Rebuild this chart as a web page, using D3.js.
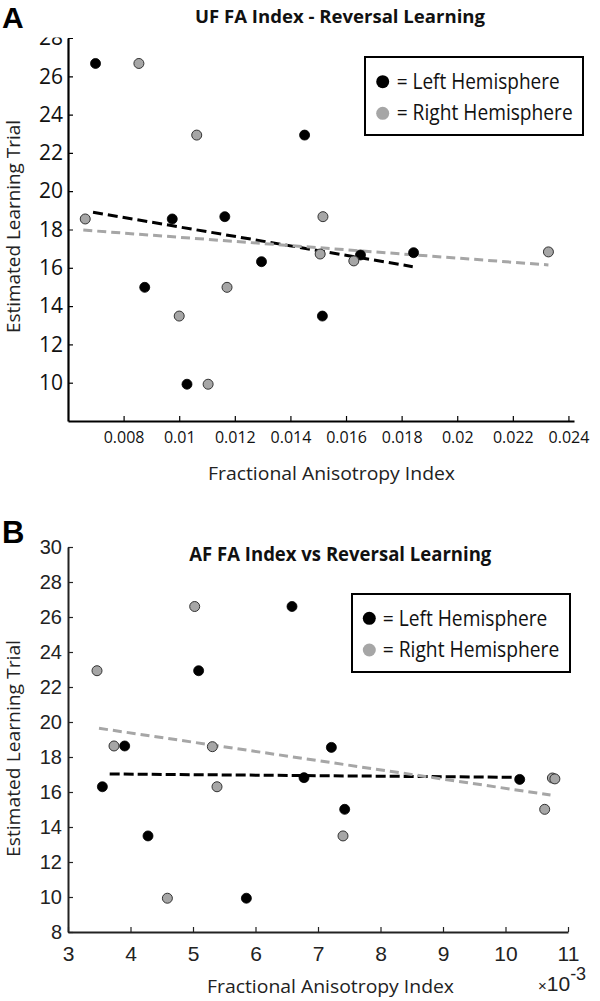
<!DOCTYPE html>
<html>
<head>
<meta charset="utf-8">
<script src="https://cdn.jsdelivr.net/npm/d3@7/dist/d3.min.js"></script>
<style>
  html, body { margin: 0; padding: 0; background: #fff; }
  svg { display: block; }
</style>
</head>
<body>
<svg id="chart" width="600" height="1001"></svg>
<script>
// ---- Panel A: UF FA Index ----
const ufLeftX  = [0.00699, 0.00975, 0.01164, 0.01451, 0.00876, 0.01028, 0.01296, 0.01515, 0.01652, 0.01843];
const ufLeftY  = [26.67, 18.55, 18.67, 22.93, 14.98, 9.92, 16.32, 13.48, 16.67, 16.79];
const ufRightX = [0.00855, 0.00662, 0.01063, 0.01517, 0.01000, 0.01104, 0.01172, 0.01507, 0.01628, 0.02328];
const ufRightY = [26.67, 18.55, 22.93, 18.67, 13.48, 9.92, 14.98, 16.72, 16.36, 16.83];
const ufLeftFitX  = [0.0069, 0.0184];
const ufLeftFitY  = [18.90, 16.06];
const ufRightFitX = [0.00655, 0.02328];
const ufRightFitY = [17.97, 16.15];
const ufXTicks = [0.008, 0.010, 0.012, 0.014, 0.016, 0.018, 0.020, 0.022, 0.024];
const ufXTickLabels = ["0.008", "0.01", "0.012", "0.014", "0.016", "0.018", "0.02", "0.022", "0.024"];
const ufYTicks = [10, 12, 14, 16, 18, 20, 22, 24, 26, 28];

// ---- Panel B: AF FA Index (x in units of 10^-3) ----
const afLeftX  = [6.584, 5.09, 3.907, 3.55, 4.28, 5.854, 6.776, 7.214, 7.427, 10.227];
const afLeftY  = [26.6, 22.93, 18.63, 16.3, 13.49, 9.93, 16.82, 18.55, 15.01, 16.72];
const afRightX = [3.464, 5.027, 3.736, 5.31, 5.384, 4.59, 7.40, 10.627, 10.75, 10.79];
const afRightY = [22.93, 26.6, 18.63, 18.59, 16.3, 9.93, 13.49, 15.01, 16.8, 16.75];
const afLeftFitX  = [3.667, 10.17];
const afLeftFitY  = [17.03, 16.84];
const afRightFitX = [3.496, 10.72];
const afRightFitY = [19.64, 15.83];
const afXTicks = [3, 4, 5, 6, 7, 8, 9, 10, 11];
const afYTicks = [8, 10, 12, 14, 16, 18, 20, 22, 24, 26, 28, 30];

const legendLabels = ["= Left Hemisphere", "= Right Hemisphere"];
const titles = ["UF FA Index - Reversal Learning", "AF FA Index vs Reversal Learning"];
const xLabel = "Fractional Anisotropy Index";
const yLabel = "Estimated Learning Trial";

const BLACK = "#000";
const GRAY = "#a6a6a6";
const CAL = "'Open Sans', 'Noto Sans', sans-serif";
const ARIAL = "'Liberation Sans', Arial, sans-serif";

const svg = d3.select("#chart");
const zip = (a, b) => a.map((v, i) => [v, b[i]]);

// ================= Panel A =================
{
  const x = d3.scaleLinear().domain([0.006, 0.0242]).range([68, 574]);
  const y = d3.scaleLinear().domain([8, 28]).range([421, 38]);
  const g = svg.append("g");

  svg.append("defs").append("clipPath").attr("id", "clipA")
    .append("rect").attr("x", -200).attr("y", 37.5).attr("width", 800).attr("height", 500);

  const yAx = g.append("g").attr("transform", `translate(${x.range()[0]},0)`)
    .call(d3.axisLeft(y).tickValues(ufYTicks).tickSizeInner(-5).tickSizeOuter(0).tickPadding(5))
    .attr("clip-path", "url(#clipA)");
  yAx.selectAll("text").attr("font-family", CAL).attr("font-size", 21).attr("fill", "#111");

  const xAx = g.append("g").attr("transform", `translate(0,${y.range()[0]})`)
    .call(d3.axisBottom(x).tickValues(ufXTicks).tickFormat((d, i) => ufXTickLabels[i])
      .tickSizeInner(-5).tickSizeOuter(0).tickPadding(11));
  xAx.selectAll("text").attr("font-family", CAL).attr("font-size", 16).attr("fill", "#111");

  [yAx, xAx].forEach(a => {
    a.select(".domain").attr("stroke", "#000").attr("stroke-width", 2.2);
    a.selectAll(".tick line").attr("stroke", "#000").attr("stroke-width", 1.2);
  });

  const line = d3.line().x(d => x(d[0])).y(d => y(d[1]));
  g.append("path").datum(zip(ufLeftFitX, ufLeftFitY)).attr("d", line)
    .attr("fill", "none").attr("stroke", BLACK).attr("stroke-width", 3).attr("stroke-dasharray", "10,5");
  g.append("path").datum(zip(ufRightFitX, ufRightFitY)).attr("d", line)
    .attr("fill", "none").attr("stroke", GRAY).attr("stroke-width", 3).attr("stroke-dasharray", "9,5");

  g.selectAll(".ptL").data(zip(ufLeftX, ufLeftY)).join("circle")
    .attr("cx", d => x(d[0])).attr("cy", d => y(d[1])).attr("r", 5)
    .attr("fill", BLACK).attr("stroke", "#000").attr("stroke-width", 0.8);
  g.selectAll(".ptR").data(zip(ufRightX, ufRightY)).join("circle")
    .attr("cx", d => x(d[0])).attr("cy", d => y(d[1])).attr("r", 5)
    .attr("fill", GRAY).attr("stroke", "#333").attr("stroke-width", 1);

  g.append("text").attr("x", 195).attr("y", 23.3).text(titles[0])
    .attr("font-family", CAL).attr("font-weight", "bold").attr("font-size", 18)
    .attr("textLength", 290).attr("lengthAdjust", "spacingAndGlyphs").attr("fill", "#111");
  g.append("text").attr("x", 2).attr("y", 28).text("A")
    .attr("font-family", ARIAL).attr("font-weight", "bold").attr("font-size", 30).attr("fill", "#000");
  g.append("text").attr("x", 208).attr("y", 480).text(xLabel)
    .attr("font-family", CAL).attr("font-size", 19)
    .attr("textLength", 247).attr("lengthAdjust", "spacingAndGlyphs").attr("fill", "#222");
  g.append("text").attr("transform", "translate(20,333) rotate(-90)").text(yLabel)
    .attr("font-family", CAL).attr("font-size", 19)
    .attr("textLength", 213).attr("lengthAdjust", "spacingAndGlyphs").attr("fill", "#222");

  const lg = g.append("g");
  lg.append("rect").attr("x", 365).attr("y", 57).attr("width", 218).attr("height", 78)
    .attr("fill", "#fff").attr("stroke", "#000").attr("stroke-width", 2);
  const lys = [81.7, 113.3], lbs = [89, 120], lws = [163, 176];
  [BLACK, GRAY].forEach((c, i) => {
    lg.append("circle").attr("cx", 382.7).attr("cy", lys[i]).attr("r", 6.5).attr("fill", c);
    lg.append("text").attr("x", 396.7).attr("y", lbs[i]).text(legendLabels[i])
      .attr("font-family", CAL).attr("font-size", 21)
      .attr("textLength", lws[i]).attr("lengthAdjust", "spacingAndGlyphs").attr("fill", "#111");
  });
}

// ================= Panel B =================
{
  const x = d3.scaleLinear().domain([3, 11]).range([68, 568]);
  const y = d3.scaleLinear().domain([8, 30]).range([932, 547]);
  const g = svg.append("g");

  const yAx = g.append("g").attr("transform", `translate(${x.range()[0]},0)`)
    .call(d3.axisLeft(y).tickValues(afYTicks).tickSizeInner(-5).tickSizeOuter(0).tickPadding(6));
  yAx.selectAll("text").attr("font-family", ARIAL).attr("font-size", 20).attr("fill", "#222");

  const xAx = g.append("g").attr("transform", `translate(0,${y.range()[0]})`)
    .call(d3.axisBottom(x).tickValues(afXTicks).tickFormat(d3.format("d"))
      .tickSizeInner(-5).tickSizeOuter(0).tickPadding(14));
  xAx.selectAll("text").attr("font-family", ARIAL).attr("font-size", 21).attr("fill", "#222");

  [yAx, xAx].forEach(a => {
    a.select(".domain").attr("stroke", "#222").attr("stroke-width", 2);
    a.selectAll(".tick line").attr("stroke", "#222").attr("stroke-width", 1.2);
  });

  const line = d3.line().x(d => x(d[0])).y(d => y(d[1]));
  g.append("path").datum(zip(afLeftFitX, afLeftFitY)).attr("d", line)
    .attr("fill", "none").attr("stroke", BLACK).attr("stroke-width", 3).attr("stroke-dasharray", "10,4");
  g.append("path").datum(zip(afRightFitX, afRightFitY)).attr("d", line)
    .attr("fill", "none").attr("stroke", GRAY).attr("stroke-width", 3).attr("stroke-dasharray", "9,5");

  g.selectAll(".ptL").data(zip(afLeftX, afLeftY)).join("circle")
    .attr("cx", d => x(d[0])).attr("cy", d => y(d[1])).attr("r", 5)
    .attr("fill", BLACK).attr("stroke", "#000").attr("stroke-width", 0.8);
  g.selectAll(".ptR").data(zip(afRightX, afRightY)).join("circle")
    .attr("cx", d => x(d[0])).attr("cy", d => y(d[1])).attr("r", 5)
    .attr("fill", GRAY).attr("stroke", "#333").attr("stroke-width", 1);

  g.append("text").attr("x", 189.3).attr("y", 560.7).text(titles[1])
    .attr("font-family", CAL).attr("font-weight", "bold").attr("font-size", 19)
    .attr("textLength", 302).attr("lengthAdjust", "spacingAndGlyphs").attr("fill", "#111");
  g.append("text").attr("x", 2).attr("y", 543).text("B")
    .attr("font-family", ARIAL).attr("font-weight", "bold").attr("font-size", 31).attr("fill", "#000");
  g.append("text").attr("x", 207).attr("y", 993).text(xLabel)
    .attr("font-family", CAL).attr("font-size", 19)
    .attr("textLength", 247).attr("lengthAdjust", "spacingAndGlyphs").attr("fill", "#222");
  g.append("text").attr("transform", "translate(20,857) rotate(-90)").text(yLabel)
    .attr("font-family", CAL).attr("font-size", 19)
    .attr("textLength", 217).attr("lengthAdjust", "spacingAndGlyphs").attr("fill", "#222");

  const m = g.append("text").attr("x", 538).attr("y", 991)
    .attr("font-family", ARIAL).attr("fill", "#222");
  m.append("tspan").attr("font-size", 15).text("×");
  m.append("tspan").attr("font-size", 21).text("10");
  m.append("tspan").attr("font-size", 18).attr("dy", -11).text("-3");

  const lg = g.append("g");
  lg.append("rect").attr("x", 352).attr("y", 594).attr("width", 218).attr("height", 78)
    .attr("fill", "#fff").attr("stroke", "#000").attr("stroke-width", 2);
  const lys = [618.3, 650], lbs = [626, 657], lws = [164.6, 176.6];
  [BLACK, GRAY].forEach((c, i) => {
    lg.append("circle").attr("cx", 369.3).attr("cy", lys[i]).attr("r", 6.5).attr("fill", c);
    lg.append("text").attr("x", 382.7).attr("y", lbs[i]).text(legendLabels[i])
      .attr("font-family", CAL).attr("font-size", 21)
      .attr("textLength", lws[i]).attr("lengthAdjust", "spacingAndGlyphs").attr("fill", "#111");
  });
}
</script>
</body>
</html>
